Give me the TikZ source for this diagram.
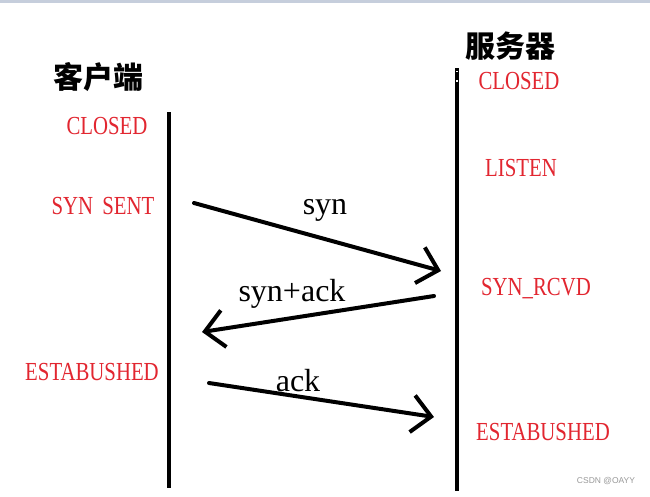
\documentclass[tikz,border=0pt]{standalone}
\usepackage{fontspec}
\usetikzlibrary{arrows.meta}
\newfontfamily\cjk{Noto Sans CJK SC}
\newfontfamily\lblfont[FakeStretch=0.8]{Liberation Serif}
\newfontfamily\msgfont{Liberation Serif}
\newfontfamily\wmfont{Liberation Sans}
\definecolor{stred}{RGB}{226,38,48}
\definecolor{topbar}{RGB}{198,206,220}
\begin{document}
\begin{tikzpicture}[x=1pt,y=-1pt,
  life/.style={line width=4.5pt,line cap=butt},
  msg/.style={line width=4pt,line cap=round,-{Straight Barb[length=19pt,width=37pt,line width=4pt]}},
  state/.style={text=stred,font=\lblfont\fontsize{26}{26}\selectfont,inner sep=0pt},
  msglbl/.style={font=\msgfont\fontsize{32}{32}\selectfont,inner sep=0pt},
  title/.style={font=\cjk\bfseries\fontsize{30}{30}\selectfont,inner sep=0pt}]
\useasboundingbox (0,0) rectangle (650,496);
\fill[white] (0,0) rectangle (650,496);
\fill[topbar] (0,0) rectangle (650,3);
% lifelines
\coordinate (ltop) at (169,112);
\coordinate (lbot) at (169,488);
\coordinate (rtop) at (457,68);
\coordinate (rbot) at (457,491);
\draw[life] (ltop) -- (lbot);
\draw[life] (rtop) -- (rbot);
\fill[white] (456,70.5) rectangle (458,72);
\fill[white] (456,80) rectangle (458,81.5);
% titles
\node[title] (client) at (98,77) {客户端};
\node[title] (server) at (510,46) {服务器};
% states
\node[state] (cclosed) at (107,126) {CLOSED};
\node[state] (csyn) at (103,206) {SYN\hspace{4pt} SENT};
\node[state] (cest) at (92,372) {ESTABUSHED};
\node[state] (sclosed) at (519,81) {CLOSED};
\node[state] (slisten) at (521,168) {LISTEN};
\node[state] (srcvd) at (536,289) {SYN\_RCVD};
\node[state] (sest) at (543,432) {ESTABUSHED};
% messages
\coordinate (m1s) at (194,203);
\coordinate (m1e) at (441,271);
\coordinate (m2s) at (434,296);
\coordinate (m2e) at (202,332);
\coordinate (m3s) at (209,383);
\coordinate (m3e) at (434,417);
\draw[msg] (m1s) -- (m1e);
\draw[msg] (m2s) -- (m2e);
\draw[msg] (m3s) -- (m3e);
\node[msglbl] (l1) at (325,210) {syn};
\node[msglbl] (l2) at (292,294) {syn+ack};
\node[msglbl] (l3) at (298,381) {ack};
% watermark
\node[font=\wmfont\fontsize{8.5}{8.5}\selectfont,text=black!40,inner sep=0pt] (wm) at (606,481) {CSDN @OAYY};
\end{tikzpicture}
\end{document}
